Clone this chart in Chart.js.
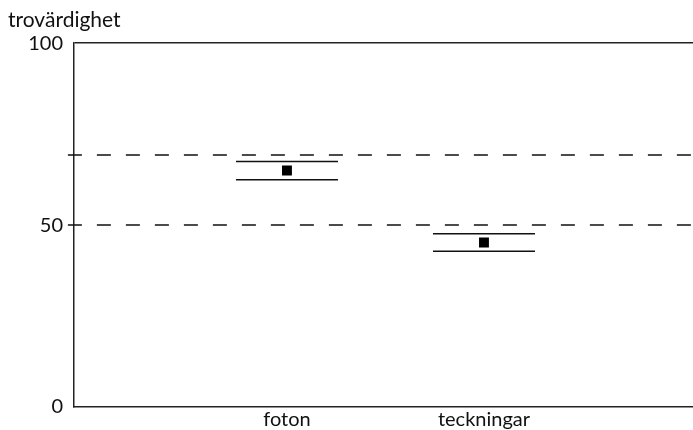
<!DOCTYPE html>
<html>
<head>
<meta charset="utf-8">
<script src="https://cdn.jsdelivr.net/npm/chart.js@4/dist/chart.umd.min.js"></script>
<style>
  body { margin: 0; background: #fff; }
  canvas { display: block; }
</style>
</head>
<body>
<canvas id="chart" width="693" height="430"></canvas>
<script>
// data
let categories = ["foton", "teckningar"];
let means = [65, 45.2];
let upper = [67.5, 47.6];
let lower = [62.5, 42.8];
let referenceLines = [69.3, 50];
let yTicks = [0, 50, 100];

var xMin = -0.081;
var xMax = 3.061;
var ink = "#111";

function points(values) {
  return values.map((v, i) => ({ x: i + 1, y: v }));
}

var datasets = [];

referenceLines.forEach(v => {
  datasets.push({
    type: "line",
    data: [{ x: xMin - 0.031, y: v }, { x: xMax, y: v }],
    borderColor: ink,
    borderWidth: 1.5,
    borderDash: [14, 15],
    pointRadius: 0,
    clip: false
  });
});

datasets.push({
  type: "scatter",
  data: points(upper),
  pointStyle: "line",
  pointRadius: 51,
  borderColor: ink,
  borderWidth: 1.5
});
datasets.push({
  type: "scatter",
  data: points(lower),
  pointStyle: "line",
  pointRadius: 51,
  borderColor: ink,
  borderWidth: 1.5
});
datasets.push({
  type: "scatter",
  data: points(means),
  pointStyle: "rect",
  pointRadius: 7,
  backgroundColor: "#000",
  borderColor: "#000",
  borderWidth: 0
});

Chart.defaults.font.family = "Lato, 'DejaVu Sans', sans-serif";
Chart.defaults.color = ink;

new Chart("chart", {
  type: "scatter",
  data: { datasets: datasets },
  options: {
    responsive: false,
    animation: false,
    events: [],
    layout: { autoPadding: false, padding: { left: 8, right: 0, top: 0, bottom: 0 } },
    plugins: {
      legend: { display: false },
      tooltip: { enabled: false },
      title: {
        display: true,
        text: "trovärdighet",
        align: "start",
        color: ink,
        font: { size: 21, weight: "normal" },
        padding: { top: 8, bottom: 10 }
      }
    },
    scales: {
      x: {
        type: "linear",
        min: xMin,
        max: xMax,
        afterBuildTicks: axis => {
          axis.ticks = categories.map((c, i) => ({ value: i + 1 }));
        },
        afterFit: axis => { axis.height = 23; },
        ticks: {
          callback: v => categories[v - 1],
          font: { size: 20, lineHeight: 1.05 },
          color: ink,
          padding: 2,
          maxRotation: 0
        },
        grid: { display: false, drawTicks: false },
        border: { display: true, color: "#222", width: 1.5 }
      },
      y: {
        min: 0,
        max: 100,
        afterBuildTicks: axis => {
          axis.ticks = yTicks.map(v => ({ value: v }));
        },
        afterFit: axis => { axis.width = 66; },
        ticks: {
          font: { size: 20 },
          color: ink,
          padding: 11
        },
        grid: {
          drawTicks: false,
          lineWidth: 1.5,
          color: c => (c.tick && c.tick.value === 100 ? "#222" : "rgba(0,0,0,0)")
        },
        border: { display: true, color: "#222", width: 1.5 }
      }
    }
  }
});
</script>
</body>
</html>
